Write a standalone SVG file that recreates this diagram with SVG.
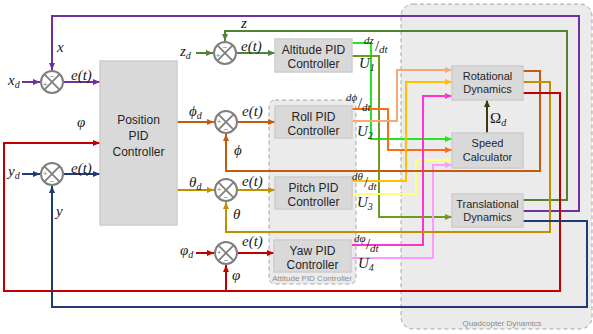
<svg xmlns="http://www.w3.org/2000/svg" width="593" height="334" viewBox="0 0 593 334">
<style>
.region{fill:#EBEBEB;stroke:#A6A6A6;stroke-width:1;stroke-dasharray:4 3}
.box{fill:#D9D9D9;stroke:#CDCDCD;stroke-width:1.5}
.lbl{font-family:"Liberation Sans",Arial,sans-serif;font-size:12px;fill:#262626;text-anchor:middle}
.sm{font-size:11px}
.cap{font-family:"Liberation Sans",Arial,sans-serif;font-size:8px;fill:#8C8C8C;text-anchor:middle}
.m{font-family:"Liberation Serif","DejaVu Serif",serif;font-style:italic;font-size:15px;fill:#1A1A1A}
.sub{font-size:10px}
.d{font-size:11px}
.sl{font-size:15px;font-style:normal}
.up{font-style:normal}
.w{fill:none;stroke-width:2}
.sum circle{fill:#fff;stroke:#7F7F7F;stroke-width:2}
.sum path{stroke:#7F7F7F;stroke-width:1.8}
.sgn{font-family:"Liberation Sans",Arial,sans-serif;font-size:8px;fill:#7F7F7F;text-anchor:middle}
</style>
<defs>
  <g id="sumj" class="sum">
    <circle r="11"/>
    <path d="M-7.8,-7.8L7.8,7.8M7.8,-7.8L-7.8,7.8"/>
  </g>
  <marker id="a-pur" markerUnits="userSpaceOnUse" markerWidth="7" markerHeight="6" refX="7" refY="3" orient="auto"><path d="M0,0L7,3L0,6z" fill="#7030A0"/></marker>
  <marker id="a-nav" markerUnits="userSpaceOnUse" markerWidth="7" markerHeight="6" refX="7" refY="3" orient="auto"><path d="M0,0L7,3L0,6z" fill="#1F3A74"/></marker>
  <marker id="a-grn" markerUnits="userSpaceOnUse" markerWidth="7" markerHeight="6" refX="7" refY="3" orient="auto"><path d="M0,0L7,3L0,6z" fill="#548235"/></marker>
  <marker id="a-org" markerUnits="userSpaceOnUse" markerWidth="7" markerHeight="6" refX="7" refY="3" orient="auto"><path d="M0,0L7,3L0,6z" fill="#C55A11"/></marker>
  <marker id="a-gld" markerUnits="userSpaceOnUse" markerWidth="7" markerHeight="6" refX="7" refY="3" orient="auto"><path d="M0,0L7,3L0,6z" fill="#BF9000"/></marker>
  <marker id="a-red" markerUnits="userSpaceOnUse" markerWidth="7" markerHeight="6" refX="7" refY="3" orient="auto"><path d="M0,0L7,3L0,6z" fill="#C00000"/></marker>
  <marker id="a-lim" markerUnits="userSpaceOnUse" markerWidth="7" markerHeight="6" refX="7" refY="3" orient="auto"><path d="M0,0L7,3L0,6z" fill="#22E822"/></marker>
  <marker id="a-olv" markerUnits="userSpaceOnUse" markerWidth="7" markerHeight="6" refX="7" refY="3" orient="auto"><path d="M0,0L7,3L0,6z" fill="#6B9E1F"/></marker>
  <marker id="a-bor" markerUnits="userSpaceOnUse" markerWidth="7" markerHeight="6" refX="7" refY="3" orient="auto"><path d="M0,0L7,3L0,6z" fill="#FF6A13"/></marker>
  <marker id="a-sal" markerUnits="userSpaceOnUse" markerWidth="7" markerHeight="6" refX="7" refY="3" orient="auto"><path d="M0,0L7,3L0,6z" fill="#F8A878"/></marker>
  <marker id="a-yel" markerUnits="userSpaceOnUse" markerWidth="7" markerHeight="6" refX="7" refY="3" orient="auto"><path d="M0,0L7,3L0,6z" fill="#FFC000"/></marker>
  <marker id="a-pyl" markerUnits="userSpaceOnUse" markerWidth="7" markerHeight="6" refX="7" refY="3" orient="auto"><path d="M0,0L7,3L0,6z" fill="#FFFF80"/></marker>
  <marker id="a-mag" markerUnits="userSpaceOnUse" markerWidth="7" markerHeight="6" refX="7" refY="3" orient="auto"><path d="M0,0L7,3L0,6z" fill="#FF33CC"/></marker>
  <marker id="a-pnk" markerUnits="userSpaceOnUse" markerWidth="7" markerHeight="6" refX="7" refY="3" orient="auto"><path d="M0,0L7,3L0,6z" fill="#FF99FF"/></marker>
  <marker id="a-drk" markerUnits="userSpaceOnUse" markerWidth="7" markerHeight="6" refX="7" refY="3" orient="auto"><path d="M0,0L7,3L0,6z" fill="#3A3A10"/></marker>
</defs>

<rect width="593" height="334" fill="#FFFFFF"/>

<!-- container regions -->
<g id="quadcopter-dynamics">
  <rect class="region" x="401" y="4" width="191" height="325" rx="12"/>
  <text class="cap" x="502" y="326">Quadcopter Dynamics</text>
</g>
<g id="attitude-pid-controller">
  <rect class="region" x="269" y="100" width="87" height="184" rx="6"/>
  <text class="cap" x="312" y="281">Attitude PID Controller</text>
</g>

<!-- connectors -->
<g id="connectors">
  <!-- controller outputs to the dynamics blocks -->
  <path class="w" stroke="#22E822" marker-end="url(#a-lim)" d="M352,43H371V139H452"/>
  <path class="w" stroke="#6B9E1F" marker-end="url(#a-olv)" d="M352,56H379V217H452"/>
  <path class="w" stroke="#FF6A13" marker-end="url(#a-bor)" d="M352,109H388V150H452"/>
  <path class="w" stroke="#F8A878" marker-end="url(#a-sal)" d="M352,121H397V70H452"/>
  <path class="w" stroke="#FFC000" marker-end="url(#a-yel)" d="M352,181H406V82H452"/>
  <path class="w" stroke="#FFFF80" marker-end="url(#a-pyl)" d="M352,194H416V160H452"/>
  <path class="w" stroke="#FF33CC" marker-end="url(#a-mag)" d="M352,245H423V96H452"/>
  <path class="w" stroke="#FF99FF" marker-end="url(#a-pnk)" d="M352,258H433V165H452"/>
  <path class="w" stroke="#3A3A10" marker-end="url(#a-drk)" d="M487,133V100"/>

  <!-- feedback loops -->
  <path class="w" stroke="#7030A0" marker-end="url(#a-pur)" d="M523,211H579V16H52V70"/>
  <path class="w" stroke="#548235" marker-end="url(#a-grn)" d="M523,200H567V31H225V41"/>
  <path class="w" stroke="#C55A11" marker-end="url(#a-org)" d="M523,71H540V171H226V134"/>
  <path class="w" stroke="#BF9000" marker-end="url(#a-gld)" d="M523,82H550V232H226V202"/>
  <path class="w" stroke="#C00000" marker-end="url(#a-red)" d="M523,93H560V291H4V143H100"/>
  <path class="w" stroke="#C00000" marker-end="url(#a-red)" d="M226,291V265"/>
  <path class="w" stroke="#1F3A74" marker-end="url(#a-nav)" d="M523,221H587V307H52V186"/>

  <!-- references and error signals -->
  <path class="w" stroke="#7030A0" marker-end="url(#a-pur)" d="M22,82H40"/>
  <path class="w" stroke="#7030A0" marker-end="url(#a-pur)" d="M64,82H100"/>
  <path class="w" stroke="#1F3A74" marker-end="url(#a-nav)" d="M22,174H40"/>
  <path class="w" stroke="#1F3A74" marker-end="url(#a-nav)" d="M64,174H100"/>
  <path class="w" stroke="#548235" marker-end="url(#a-grn)" d="M196,53H213"/>
  <path class="w" stroke="#548235" marker-end="url(#a-grn)" d="M237,53H275"/>
  <path class="w" stroke="#C55A11" marker-end="url(#a-org)" d="M177,122H214"/>
  <path class="w" stroke="#C55A11" marker-end="url(#a-org)" d="M238,122H275"/>
  <path class="w" stroke="#BF9000" marker-end="url(#a-gld)" d="M177,190H214"/>
  <path class="w" stroke="#BF9000" marker-end="url(#a-gld)" d="M238,190H275"/>
  <path class="w" stroke="#C00000" marker-end="url(#a-red)" d="M196,253H214"/>
  <path class="w" stroke="#C00000" marker-end="url(#a-red)" d="M238,253H274"/>
</g>

<!-- summing junctions -->
<g id="sum-x"><use href="#sumj" x="52" y="82"/><text class="sgn" x="52" y="79">−</text><text class="sgn" x="45" y="87">+</text></g>
<g id="sum-y"><use href="#sumj" x="52" y="174"/><text class="sgn" x="45" y="176">+</text><text class="sgn" x="52" y="184">−</text></g>
<g id="sum-z"><use href="#sumj" x="225" y="53"/><text class="sgn" x="225" y="50">−</text><text class="sgn" x="218" y="58">+</text></g>
<g id="sum-roll"><use href="#sumj" x="226" y="122"/><text class="sgn" x="219" y="124">+</text><text class="sgn" x="226" y="132">−</text></g>
<g id="sum-pitch"><use href="#sumj" x="226" y="190"/><text class="sgn" x="219" y="192">+</text><text class="sgn" x="226" y="200">−</text></g>
<g id="sum-yaw"><use href="#sumj" x="226" y="253"/><text class="sgn" x="219" y="255">+</text><text class="sgn" x="226" y="263">−</text></g>

<!-- blocks -->
<g id="position-pid">
  <rect class="box" x="100" y="61" width="77" height="164"/>
  <text class="lbl" x="138.5" y="124">Position</text>
  <text class="lbl" x="138.5" y="140">PID</text>
  <text class="lbl" x="138.5" y="156">Controller</text>
</g>
<g id="altitude-pid">
  <rect class="box" x="275" y="39" width="77" height="33"/>
  <text class="lbl" x="313.5" y="54">Altitude PID</text>
  <text class="lbl" x="313.5" y="68">Controller</text>
</g>
<g id="roll-pid">
  <rect class="box" x="275" y="106" width="77" height="32"/>
  <text class="lbl" x="313.5" y="121">Roll PID</text>
  <text class="lbl" x="313.5" y="135">Controller</text>
</g>
<g id="pitch-pid">
  <rect class="box" x="275" y="177" width="77" height="32"/>
  <text class="lbl" x="313.5" y="192">Pitch PID</text>
  <text class="lbl" x="313.5" y="206">Controller</text>
</g>
<g id="yaw-pid">
  <rect class="box" x="274" y="240" width="77" height="32"/>
  <text class="lbl" x="312.5" y="255">Yaw PID</text>
  <text class="lbl" x="312.5" y="269">Controller</text>
</g>
<g id="rotational-dynamics">
  <rect class="box" x="452" y="66" width="71" height="34"/>
  <text class="lbl sm" x="487.5" y="80">Rotational</text>
  <text class="lbl sm" x="487.5" y="93">Dynamics</text>
</g>
<g id="speed-calculator">
  <rect class="box" x="452" y="133" width="71" height="35"/>
  <text class="lbl sm" x="487.5" y="147">Speed</text>
  <text class="lbl sm" x="487.5" y="161">Calculator</text>
</g>
<g id="translational-dynamics">
  <rect class="box" x="452" y="194" width="71" height="33"/>
  <text class="lbl sm" x="487.5" y="208">Translational</text>
  <text class="lbl sm" x="487.5" y="221">Dynamics</text>
</g>

<!-- signal labels -->
<g id="labels">
  <text class="m" x="8" y="85">x<tspan class="sub" dy="3">d</tspan></text>
  <text class="m" x="57" y="52">x</text>
  <text class="m" x="71" y="80">e(t)</text>
  <text class="m" x="8" y="176">y<tspan class="sub" dy="3">d</tspan></text>
  <text class="m" x="56" y="216">y</text>
  <text class="m" x="71" y="173">e(t)</text>
  <text class="m" x="77" y="127">φ</text>

  <text class="m" x="180" y="56">z<tspan class="sub" dy="3">d</tspan></text>
  <text class="m" x="241" y="28">z</text>
  <text class="m" x="241" y="51">e(t)</text>

  <text class="m" x="189" y="116">ϕ<tspan class="sub" dy="3">d</tspan></text>
  <text class="m" x="234" y="155">ϕ</text>
  <text class="m" x="242" y="116">e(t)</text>

  <text class="m" x="189" y="187">θ<tspan class="sub" dy="3">d</tspan></text>
  <text class="m" x="233" y="219">θ</text>
  <text class="m" x="242" y="186">e(t)</text>

  <text class="m" x="180" y="255">φ<tspan class="sub" dy="3">d</tspan></text>
  <text class="m" x="232" y="280">φ</text>
  <text class="m" x="242" y="246">e(t)</text>

  <text class="m d" x="364" y="44">dz</text><text class="m sl" x="375" y="51">/</text><text class="m d" x="379" y="53">dt</text>
  <text class="m" x="359" y="68">U<tspan class="sub" dy="3">1</tspan></text>
  <text class="m d" x="346" y="101">dϕ</text><text class="m sl" x="358" y="108">/</text><text class="m d" x="362" y="111">dt</text>
  <text class="m" x="357" y="136">U<tspan class="sub" dy="3">2</tspan></text>
  <text class="m d" x="352" y="180">dθ</text><text class="m sl" x="364" y="187">/</text><text class="m d" x="368" y="190">dt</text>
  <text class="m" x="357" y="207">U<tspan class="sub" dy="3">3</tspan></text>
  <text class="m d" x="354" y="242">dφ</text><text class="m sl" x="366" y="249">/</text><text class="m d" x="370" y="252">dt</text>
  <text class="m" x="358" y="268">U<tspan class="sub" dy="3">4</tspan></text>

  <text class="m" x="490" y="123"><tspan class="up">Ω</tspan><tspan class="sub" dy="3">d</tspan></text>
</g>
</svg>
